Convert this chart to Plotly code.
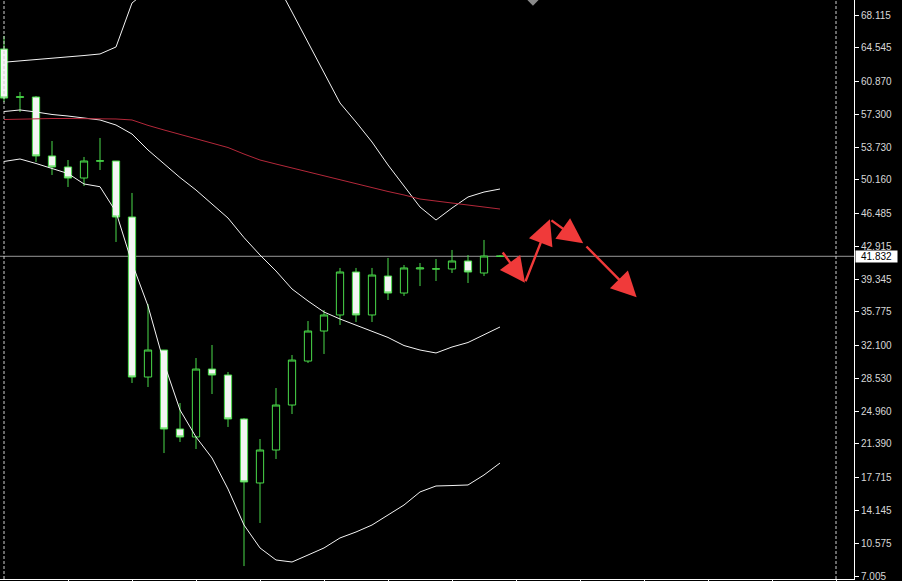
import plotly.graph_objects as go

# ---- data ----
IDX = list(range(32))
OPEN = [64.41, 59.15, 59.18, 52.76, 51.56, 50.36, 52.21, 52.21, 46.11, 28.68,
        31.62, 23.02, 22.15, 29.55, 28.90, 24.11, 17.14, 20.73, 25.63, 30.42,
        33.69, 35.44, 40.12, 35.44, 39.68, 37.83, 40.45, 40.45, 40.45, 41.32,
        40.01, 41.83]
HIGH = [65.83, 59.73, 59.29, 54.39, 52.32, 52.65, 54.72, 52.21, 48.73, 36.63,
        31.62, 25.85, 30.75, 32.17, 29.23, 24.20, 21.93, 27.48, 31.08, 34.78,
        35.98, 40.56, 40.56, 40.56, 41.65, 40.88, 41.10, 41.54, 42.52, 41.97,
        43.61, 41.95]
LOW = [58.64, 57.55, 52.10, 50.69, 49.38, 49.49, 51.23, 43.39, 28.03, 27.59,
       20.40, 21.60, 20.84, 26.83, 23.24, 8.09, 12.78, 19.75, 24.65, 30.21,
       31.19, 34.35, 34.67, 34.67, 37.07, 37.51, 38.59, 39.14, 40.01, 38.92,
       39.68, 41.75]
CLOSE = [59.07, 59.20, 52.76, 51.56, 50.36, 52.21, 52.22, 46.11, 28.68, 31.62,
         23.02, 22.15, 29.55, 28.90, 24.11, 17.25, 20.73, 25.63, 30.53, 33.69,
         35.44, 40.12, 35.44, 39.79, 37.83, 40.56, 40.56, 40.46, 41.32, 40.12,
         41.86, 41.84]

BB_UPPER = [62.97, 63.10, 63.25, 63.40, 63.54, 63.70, 63.87, 64.63, 69.42, 70.84,
            73.56, 76.29, 75.96, 75.41, 75.52, 75.09, 73.89, 71.71, 68.44, 65.17,
            61.91, 58.53, 56.46, 54.28, 51.78, 49.49, 47.20, 45.78, 47.09, 48.29,
            48.83, 49.16]
BB_MIDDLE = [57.60, 57.77, 57.55, 57.28, 57.11, 56.90, 56.68, 56.13, 55.15, 53.41,
             51.88, 50.41, 49.05, 47.53, 46.00, 43.87, 41.97, 40.23, 38.27, 36.96,
             35.76, 35.00, 34.35, 33.69, 32.99, 32.11, 31.62, 31.30, 31.95, 32.44,
             33.26, 34.13]
BB_LOWER = [52.16, 52.43, 51.94, 51.39, 50.85, 49.71, 49.41, 46.66, 41.10, 36.42,
            30.21, 25.09, 22.15, 19.86, 16.48, 12.56, 10.06, 8.75, 8.53, 9.29,
            10.06, 11.15, 11.80, 12.56, 13.65, 14.74, 16.16, 16.81, 16.86, 16.92,
            18.01, 19.31]
MA_RED = [56.73, 56.79, 56.84, 56.84, 56.84, 56.84, 56.81, 56.79, 56.68, 56.09,
          55.59, 55.10, 54.61, 54.17, 53.68, 52.97, 52.32, 51.88, 51.45, 51.01,
          50.58, 50.14, 49.71, 49.27, 48.89, 48.51, 48.07, 47.85, 47.64, 47.42,
          47.20, 46.98]

LAST_PRICE = 41.832
LAST_PRICE_LABEL = "41.832"

Y_TICKVALS = [68.115, 64.545, 60.870, 57.300, 53.730, 50.160, 46.485, 42.915, 39.345,
              35.775, 32.100, 28.530, 24.960, 21.390, 17.715, 14.145, 10.575, 7.005]
Y_TICKTEXT = ["68.115", "64.545", "60.870", "57.300", "53.730", "50.160", "46.485",
              "42.915", "39.345", "35.775", "32.100", "28.530", "24.960", "21.390",
              "17.715", "14.145", "10.575", "7.005"]
X_TICKVALS = [4, 8, 12, 16, 20, 24, 28, 32, 36, 40, 44, 48, 52]
SEPARATORS_X = [0, 52]

# hand-drawn forecast arrows: tail (x0, y0) -> tip (x1, y1)
ARROW_X0 = [31.1, 32.56, 34.12, 36.31]
ARROW_Y0 = [42.41, 38.95, 45.86, 43.06]
ARROW_X1 = [32.56, 34.12, 36.2, 39.54]
ARROW_Y1 = [38.95, 45.86, 43.25, 37.36]

SHIFT_MARK_X = 33.06

X_RANGE = [-0.25, 53.125]
Y_RANGE = [6.679, 69.749]

GREEN = "#4ada4a"
WHITE = "#f4f4f4"

fig = go.Figure()

fig.add_trace(go.Candlestick(
    x=IDX, open=OPEN, high=HIGH, low=LOW, close=CLOSE,
    increasing=dict(line=dict(color=GREEN, width=1), fillcolor="#000000"),
    decreasing=dict(line=dict(color=GREEN, width=1), fillcolor=WHITE),
    whiskerwidth=0, showlegend=False, hoverinfo="skip",
))

for series in (BB_UPPER, BB_MIDDLE, BB_LOWER):
    fig.add_trace(go.Scatter(x=IDX, y=series, mode="lines",
                             line=dict(color=WHITE, width=1),
                             showlegend=False, hoverinfo="skip"))

fig.add_trace(go.Scatter(x=IDX, y=MA_RED, mode="lines",
                         line=dict(color="#b4283a", width=1),
                         showlegend=False, hoverinfo="skip"))

shapes = []
shapes.append(dict(type="line", xref="paper", yref="y", x0=0, x1=1,
                   y0=LAST_PRICE, y1=LAST_PRICE,
                   line=dict(color="#9a9a9a", width=1), layer="below"))
for sx in SEPARATORS_X:
    shapes.append(dict(type="line", xref="x", yref="paper", x0=sx, x1=sx, y0=0, y1=1,
                       line=dict(color="#d0d0d0", width=1, dash="3px,2px")))
shapes.append(dict(type="path", xref="x", yref="paper",
                   path=f"M {SHIFT_MARK_X-0.35},1 L {SHIFT_MARK_X+0.35},1 L {SHIFT_MARK_X},0.99 Z",
                   fillcolor="#8a8a8a", line=dict(width=0)))

annotations = []
for x0, y0, x1, y1 in zip(ARROW_X0, ARROW_Y0, ARROW_X1, ARROW_Y1):
    annotations.append(dict(x=x1, y=y1, ax=x0, ay=y0, xref="x", yref="y",
                            axref="x", ayref="y", showarrow=True, text="",
                            arrowhead=2, arrowsize=2.1, arrowwidth=2.4,
                            arrowcolor="#f03a3a"))
annotations.append(dict(x=1, y=LAST_PRICE, xref="paper", yref="y", xanchor="left",
                        yanchor="middle", xshift=1, showarrow=False,
                        text=LAST_PRICE_LABEL, bgcolor="#ffffff", borderpad=0,
                        width=41, height=11,
                        font=dict(color="#000000", size=10, family="Liberation Sans")))

fig.update_layout(
    width=902, height=581,
    margin=dict(l=0, r=48, t=0, b=2, autoexpand=False),
    paper_bgcolor="#000000", plot_bgcolor="#000000",
    showlegend=False, boxgap=0.35,
    shapes=shapes, annotations=annotations,
    xaxis=dict(range=X_RANGE, showgrid=False, zeroline=False, automargin=False,
               showline=True, linecolor="#ffffff", linewidth=1, mirror=True,
               ticks="outside", ticklen=3, tickcolor="#ffffff",
               tickvals=X_TICKVALS, showticklabels=False,
               rangeslider=dict(visible=False), fixedrange=True),
    yaxis=dict(range=Y_RANGE, side="right", showgrid=False, zeroline=False,
               automargin=False, ticklabeloverflow="allow",
               showline=True, linecolor="#ffffff", linewidth=1,
               ticks="outside", ticklen=4, tickcolor="#ffffff",
               tickvals=Y_TICKVALS, ticktext=Y_TICKTEXT,
               tickfont=dict(color="#d8d8d8", size=10, family="Liberation Sans"),
               fixedrange=True),
)

fig.write_html(
    "out.html",
    config={"displayModeBar": False},
    post_script="document.body.style.margin='0';document.body.style.background='#000';",
)
